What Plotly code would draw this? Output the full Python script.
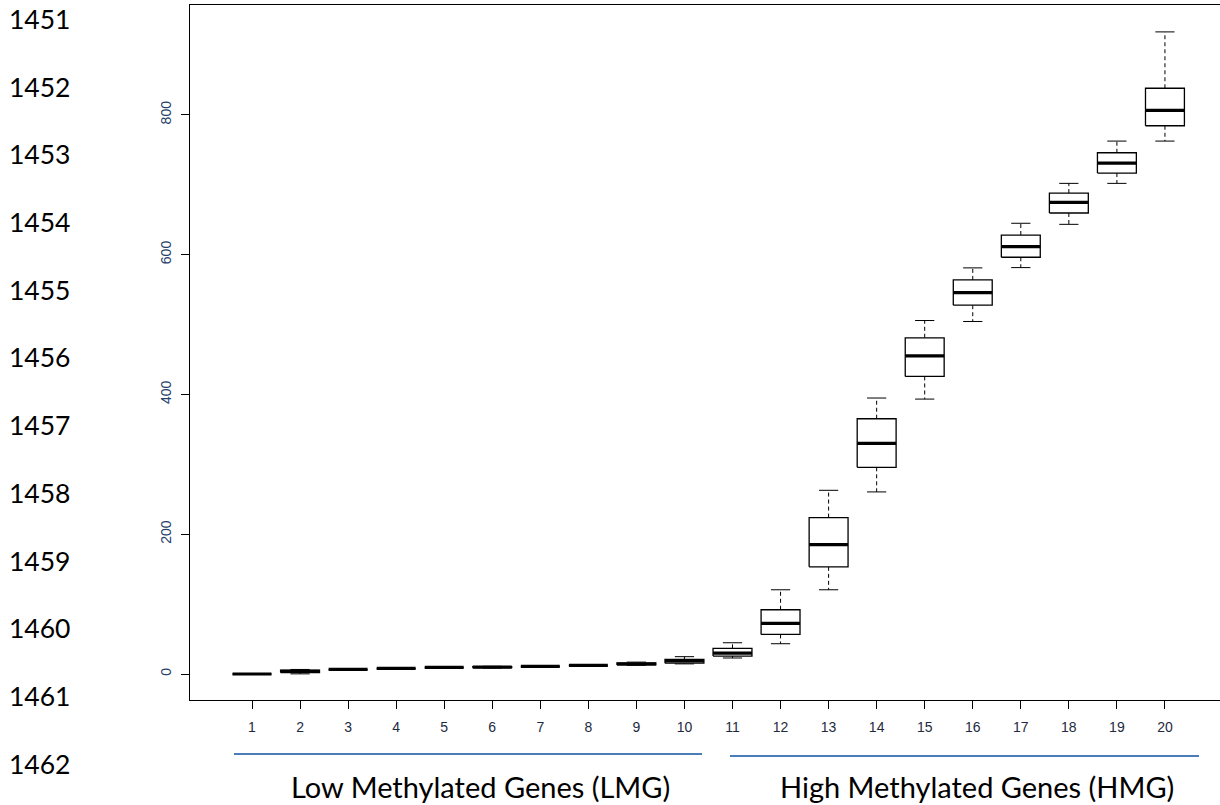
import plotly.graph_objects as go

groups = list(range(1, 21))
lower = [-0.5, 0.2, 5.5, 7.0, 8.5, 8.5, 10.0, 11.5, 12.5, 14.5, 22.9, 43.3, 120.5, 260.5, 393.3, 504.3, 581.4, 643.3, 701.9, 762.4]
q1 = [-0.3, 2.0, 6.2, 7.6, 9.0, 9.0, 10.5, 12.0, 13.0, 15.5, 25.7, 56.6, 153.3, 295.7, 425.7, 527.6, 596.2, 659.5, 716.7, 784.3]
median = [0.0, 3.8, 6.7, 8.1, 9.5, 9.8, 11.0, 12.4, 14.3, 18.6, 30.0, 72.4, 185.2, 330.0, 455.0, 545.7, 611.4, 674.8, 731.0, 806.2]
q3 = [0.3, 5.5, 7.2, 8.6, 10.0, 10.5, 11.5, 12.9, 16.0, 21.0, 36.7, 91.9, 223.8, 365.2, 481.0, 563.8, 628.0, 688.0, 745.7, 838.0]
upper = [0.5, 6.5, 7.8, 9.2, 10.5, 11.0, 12.0, 13.4, 17.0, 24.8, 44.7, 120.5, 262.8, 394.8, 505.7, 581.0, 644.8, 701.9, 762.4, 918.6]
y_ticks = [0, 200, 400, 600, 800]
line_numbers = list(range(1451, 1463))
group_labels = ["Low Methylated Genes (LMG)", "High Methylated Genes (HMG)"]

HW = 0.405   # half box width
CW = 0.2     # half staple width

bx, by, mx, my, wx, wy, cx, cy = [], [], [], [], [], [], [], []
for g, lo, a, m, b, hi in zip(groups, lower, q1, median, q3, upper):
    bx += [g - HW, g + HW, g + HW, g - HW, g - HW, None]
    by += [a, a, b, b, a, None]
    mx += [g - HW, g + HW, None]
    my += [m, m, None]
    wx += [g, g, None, g, g, None]
    wy += [b, hi, None, a, lo, None]
    cx += [g - CW, g + CW, None, g - CW, g + CW, None]
    cy += [hi, hi, None, lo, lo, None]

fig = go.Figure()
fig.add_trace(go.Scatter(x=wx, y=wy, mode="lines", line=dict(color="black", width=1, dash="4px,3px"),
                         hoverinfo="skip", showlegend=False))
fig.add_trace(go.Scatter(x=cx, y=cy, mode="lines", line=dict(color="black", width=1),
                         hoverinfo="skip", showlegend=False))
fig.add_trace(go.Scatter(x=bx, y=by, mode="lines", line=dict(color="black", width=1.3),
                         fill="toself", fillcolor="white", hoverinfo="skip", showlegend=False))
fig.add_trace(go.Scatter(x=mx, y=my, mode="lines", line=dict(color="black", width=3.2),
                         hoverinfo="skip", showlegend=False))

W, H = 1220, 805
L, R, T, B = 190, 0, 5, 105
pw, ph = W - L - R, H - T - B


def px(X):
    return (X - L) / pw


def py(Y):
    return (H - B - Y) / ph


annotations = []
for k, n in enumerate(line_numbers):
    annotations.append(dict(text=str(n), x=px(7), y=py(19 + 67.7 * k), xref="paper", yref="paper",
                            xanchor="left", yanchor="middle", showarrow=False,
                            font=dict(family="Lato", size=26.5, color="black")))
annotations.append(dict(text=group_labels[0], x=px(480), y=py(786), xref="paper", yref="paper",
                        xanchor="center", yanchor="middle", showarrow=False,
                        font=dict(family="Lato", size=29, color="black")))
annotations.append(dict(text=group_labels[1], x=px(977), y=py(786), xref="paper", yref="paper",
                        xanchor="center", yanchor="middle", showarrow=False,
                        font=dict(family="Lato", size=29, color="black")))

shapes = [
    dict(type="line", xref="paper", yref="paper", x0=px(234), x1=px(702), y0=py(754), y1=py(754),
         line=dict(color="#4a7ebb", width=2)),
    dict(type="line", xref="paper", yref="paper", x0=px(730), x1=px(1199), y0=py(756), y1=py(756),
         line=dict(color="#4a7ebb", width=2)),
]

fig.update_layout(
    width=W, height=H,
    margin=dict(l=L, r=R, t=T, b=B, pad=0),
    paper_bgcolor="white", plot_bgcolor="white",
    showlegend=False,
    annotations=annotations,
    shapes=shapes,
    xaxis=dict(range=[1 - 62 / 48.05, 1 + 968 / 48.05], tickmode="array", tickvals=groups,
               ticktext=[str(g) for g in groups], showgrid=False, zeroline=False,
               showline=True, mirror=True, linecolor="black", linewidth=1,
               ticks="outside", ticklen=8, tickcolor="black", tickwidth=1,
               tickfont=dict(family="Liberation Sans", size=14, color="#1e2a40"),
               ticklabelstandoff=6),
    yaxis=dict(range=[-26 / 0.699, 669 / 0.699], tickmode="array", tickvals=y_ticks,
               ticktext=[str(v) for v in y_ticks], showgrid=False, zeroline=False,
               showline=True, linecolor="black", linewidth=1,
               ticks="outside", ticklen=8, tickcolor="black", tickwidth=1, tickangle=-90,
               tickfont=dict(family="Liberation Sans", size=14, color="#24406b"),
               ticklabelstandoff=4),
)

fig.write_html("out.html", config={"displayModeBar": False},
               post_script="document.body.style.margin='0px';document.body.style.padding='0px';")
